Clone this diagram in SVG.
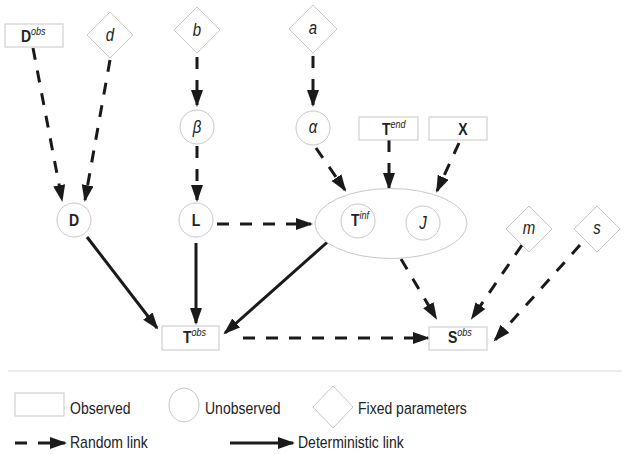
<svg xmlns="http://www.w3.org/2000/svg" width="628" height="454" viewBox="0 0 628 454">
<defs>
<marker id="ah" markerUnits="userSpaceOnUse" markerWidth="20" markerHeight="14" refX="15" refY="6" orient="auto">
<path d="M0,0 L17,6 L0,12 z" fill="#1a1a1a"/>
</marker>
<style>
.nb{fill:#fff;stroke:#c8c8c8;stroke-width:1}
.t{font-family:"Liberation Sans",Arial,sans-serif;fill:#222;font-size:14px}
.b{font-weight:bold}
.i{font-style:italic;font-size:15px}
.sup{font-size:9px;font-style:italic;font-weight:normal}
.c{stroke:#1a1a1a;stroke-width:3;fill:none;marker-end:url(#ah)}
.d{stroke-dasharray:12 11}
</style>
</defs>
<rect width="628" height="454" fill="#fff"/>

<g id="connectors">
<line class="c d" x1="33" y1="48" x2="62" y2="200"/>
<line class="c d" x1="110" y1="60" x2="85" y2="200"/>
<line class="c d" x1="197" y1="57" x2="197" y2="105"/>
<line class="c d" x1="313" y1="56" x2="313" y2="105"/>
<line class="c d" x1="197" y1="146" x2="197" y2="200"/>
<line class="c d" x1="316" y1="148" x2="345" y2="190"/>
<line class="c d" x1="389" y1="140" x2="389" y2="188"/>
<line class="c d" x1="459" y1="143" x2="437" y2="191"/>
<line class="c d" x1="217" y1="224" x2="311" y2="224"/>
<line class="c" x1="87" y1="237" x2="157" y2="328"/>
<line class="c" x1="196" y1="243" x2="196" y2="323"/>
<line class="c" x1="341" y1="230" x2="225" y2="333"/>
<line class="c d" x1="243" y1="338" x2="428" y2="338"/>
<line class="c d" x1="401" y1="259" x2="436" y2="318"/>
<line class="c d" x1="522" y1="245" x2="472" y2="318"/>
<line class="c d" x1="580" y1="245" x2="495" y2="340"/>
</g>

<g id="Dobs"><rect class="nb" x="5" y="24" width="58" height="23"/>
<text class="t b" transform="translate(21 42) scale(1 1.2)">D<tspan class="sup" dy="-6">obs</tspan></text></g>
<g id="d"><path class="nb" d="M110,12 L133,35 L110,58 L87,35 z"/><text class="t i" transform="translate(110 41) scale(1 1.2)" text-anchor="middle">d</text></g>
<g id="b"><path class="nb" d="M197,7 L220,30 L197,53 L174,30 z"/><text class="t i" transform="translate(197 36) scale(1 1.2)" text-anchor="middle">b</text></g>
<g id="a"><path class="nb" d="M313,5 L337,29 L313,53 L289,29 z"/><text class="t i" transform="translate(313 34) scale(1 1.2)" text-anchor="middle">a</text></g>
<g id="beta"><circle class="nb" cx="197" cy="127" r="17"/><text class="t i" transform="translate(197 133) scale(1 1.2)" text-anchor="middle">β</text></g>
<g id="alpha"><circle class="nb" cx="313" cy="128" r="17"/><text class="t i" transform="translate(313 133) scale(1 1.2)" text-anchor="middle">α</text></g>
<g id="Tend"><rect class="nb" x="359" y="117" width="59" height="23"/>
<text class="t b" transform="translate(382 135) scale(1 1.2)">T<tspan class="sup" dy="-6">end</tspan></text></g>
<g id="X"><rect class="nb" x="429" y="117" width="58" height="23"/>
<text class="t b" transform="translate(463 135) scale(1 1.2)" text-anchor="middle">X</text></g>
<g id="D"><circle class="nb" cx="74" cy="220" r="17"/><text class="t b" transform="translate(74 226) scale(1 1.2)" text-anchor="middle">D</text></g>
<g id="L"><circle class="nb" cx="196" cy="220" r="17"/><text class="t b" transform="translate(196 226) scale(1 1.2)" text-anchor="middle">L</text></g>
<g id="group"><ellipse class="nb" cx="391" cy="223.5" rx="76" ry="35"/></g>
<g id="Tinf"><circle class="nb" cx="358" cy="221" r="17"/>
<text class="t b" transform="translate(351 226) scale(1 1.2)">T<tspan class="sup" dy="-6">inf</tspan></text></g>
<g id="J"><circle class="nb" cx="423" cy="223" r="17"/><text class="t i" transform="translate(423 229) scale(1 1.2)" text-anchor="middle">J</text></g>
<g id="m"><path class="nb" d="M529,206 L552,229 L529,252 L506,229 z"/><text class="t i" transform="translate(529 234) scale(1 1.2)" text-anchor="middle">m</text></g>
<g id="s"><path class="nb" d="M597,206 L620,229 L597,252 L574,229 z"/><text class="t i" transform="translate(597 234) scale(1 1.2)" text-anchor="middle">s</text></g>
<g id="Tobs"><rect class="nb" x="162" y="326" width="57" height="24"/>
<text class="t b" transform="translate(183 343) scale(1 1.2)">T<tspan class="sup" dy="-6">obs</tspan></text></g>
<g id="Sobs"><rect class="nb" x="429" y="327" width="58" height="23"/>
<text class="t b" transform="translate(448 343) scale(1 1.2)">S<tspan class="sup" dy="-6">obs</tspan></text></g>

<g id="legend">
<line x1="8" y1="371" x2="622" y2="371" stroke="#d8d8d8" stroke-width="1"/>
<rect class="nb" x="15" y="393" width="49" height="23"/>
<text class="t" transform="translate(70 414) scale(1 1.2)">Observed</text>
<ellipse class="nb" cx="184" cy="405" rx="15" ry="17"/>
<text class="t" transform="translate(205 414) scale(1 1.2)">Unobserved</text>
<path class="nb" d="M333,386 L353,407 L333,428 L313,407 z"/>
<text class="t" transform="translate(358 414) scale(1 1.2)">Fixed parameters</text>
<line class="c d" x1="15" y1="443" x2="65" y2="443"/>
<text class="t" transform="translate(70 448) scale(1 1.2)">Random link</text>
<line class="c" x1="230" y1="443" x2="293" y2="443"/>
<text class="t" transform="translate(298 448) scale(1 1.2)">Deterministic link</text>
</g>
</svg>
